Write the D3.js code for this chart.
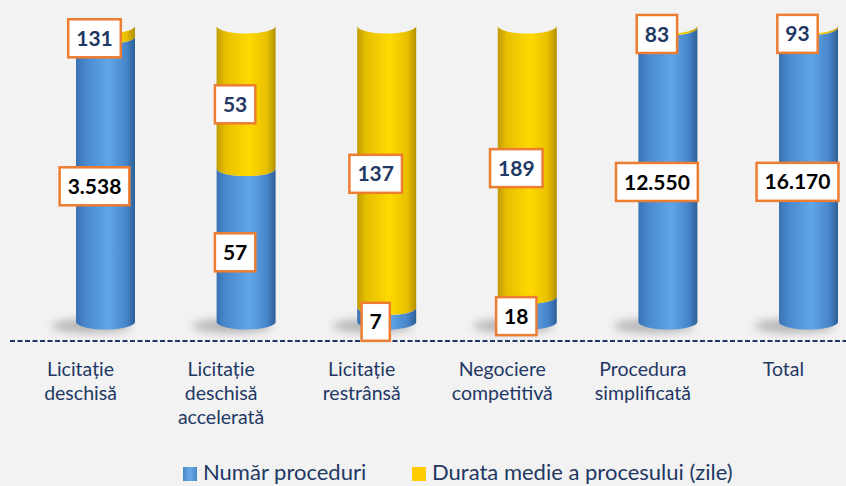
<!DOCTYPE html>
<html>
<head>
<meta charset="utf-8">
<script src="https://cdn.jsdelivr.net/npm/d3@7"></script>
<style>
  html, body { margin: 0; padding: 0; background: #f2f2f2; }
  svg { display: block; }
</style>
</head>
<body>
<div id="chart"></div>
<script>
// data
var categories = ['Licitație deschisă', 'Licitație deschisă accelerată', 'Licitație restrânsă',
                  'Negociere competitivă', 'Procedura simplificată', 'Total'];
var numarProceduri = [3538, 57, 7, 18, 12550, 16170];
var durataMedie = [131, 53, 137, 189, 83, 93];
var seriesNames = ['Număr proceduri', 'Durata medie a procesului (zile)'];

var width = 846, height = 486;
var cylW = 59, rx = cylW / 2, ry = 7.5;
var navy = '#1f3864';

var locale = d3.formatLocale({decimal: ',', thousands: '.', grouping: [3], currency: ['', ' lei']});
var fmt = locale.format(',d');

var rows = categories.map(function (c, i) {
  return {cat: c, numar: numarProceduri[i], durata: durataMedie[i]};
});
var keys = ['numar', 'durata'];
var stacked = d3.stack().keys(keys).offset(d3.stackOffsetExpand)(rows);

var x = d3.scalePoint().domain(categories).range([35.2, 878.8]).padding(0.5);
var y = d3.scaleLinear().domain([0, 1]).range([322, 26]);

var svg = d3.select('#chart').append('svg')
    .attr('width', width).attr('height', height)
    .style('font-family', 'Lato, "Open Sans", sans-serif');

svg.append('rect').attr('width', width).attr('height', height).attr('fill', '#f2f2f2');

var defs = svg.append('defs');
function bodyGrad(id, stops) {
  var g = defs.append('linearGradient').attr('id', id).attr('x1', '0').attr('x2', '1').attr('y1', '0').attr('y2', '0');
  stops.forEach(function (s) { g.append('stop').attr('offset', s[0]).attr('stop-color', s[1]); });
}
bodyGrad('g-numar', [[0, '#3a73b2'], [0.15, '#4887cd'], [0.55, '#5fa6e8'], [0.85, '#4785ca'], [1, '#2d5f97']]);
bodyGrad('g-durata', [[0, '#c19b00'], [0.15, '#e6bf00'], [0.55, '#ffd900'], [0.85, '#e8c000'], [1, '#b39000']]);
bodyGrad('cap-durata', [[0, '#e0b800'], [0.5, '#ffdc10'], [1, '#e6bd00']]);
bodyGrad('leg-numar', [[0, '#4a86cc'], [0.5, '#6aaae6'], [1, '#4a86cc']]);

defs.append('filter').attr('id', 'blur').attr('x', '-50%').attr('y', '-100%').attr('width', '200%').attr('height', '300%')
  .append('feGaussianBlur').attr('stdDeviation', 4);

// shadows under cylinders
svg.append('g').selectAll('ellipse')
  .data(categories)
  .join('ellipse')
    .attr('cx', function (d) { return x(d) - 14; })
    .attr('cy', y(0) + 4)
    .attr('rx', 40).attr('ry', 7)
    .attr('fill', '#7a7a7a').attr('opacity', 0.5)
    .attr('filter', 'url(#blur)');

// floor / category axis
svg.append('line')
  .attr('x1', 10).attr('x2', width)
  .attr('y1', 341).attr('y2', 341)
  .attr('stroke', navy).attr('stroke-width', 2)
  .attr('stroke-dasharray', '5,2.5');

function segPath(cx, y0, y1) {
  var l = cx - rx, r = cx + rx;
  return 'M' + l + ',' + y1 + 'L' + l + ',' + y0 +
         'A' + rx + ',' + ry + ' 0 0 0 ' + r + ',' + y0 +
         'L' + r + ',' + y1 +
         'A' + rx + ',' + ry + ' 0 0 1 ' + l + ',' + y1 + 'Z';
}

// cylinder bodies
stacked.forEach(function (layer) {
  svg.append('g').selectAll('path')
    .data(layer)
    .join('path')
      .attr('d', function (d) { return segPath(x(d.data.cat), y(d[0]), y(d[1])); })
      .attr('fill', 'url(#g-' + layer.key + ')');
});

// top caps
var top = stacked[stacked.length - 1];
svg.append('g').selectAll('ellipse')
  .data(top)
  .join('ellipse')
    .attr('cx', function (d) { return x(d.data.cat); })
    .attr('cy', function (d) { return y(d[1]); })
    .attr('rx', rx).attr('ry', ry + 0.5)
    .attr('fill', 'url(#cap-durata)')
    .attr('stroke', '#c9a200').attr('stroke-width', 0.6);

// data labels
var textColor = {numar: '#000', durata: navy};
stacked.forEach(function (layer) {
  var g = svg.append('g').selectAll('g')
    .data(layer)
    .join('g')
      .attr('transform', function (d) {
        return 'translate(' + (x(d.data.cat) - 11) + ',' + ((y(d[0]) + y(d[1])) / 2 + 7) + ')';
      });
  g.append('rect')
    .attr('fill', '#fff').attr('stroke', '#ed7d31').attr('stroke-width', 2.5);
  var txt = g.append('text')
    .attr('text-anchor', 'middle').attr('dy', '0.36em')
    .attr('font-size', 21).attr('font-weight', 700)
    .attr('fill', textColor[layer.key])
    .text(function (d) { return fmt(d.data[layer.key]); });
  txt.each(function () {
    var w = this.getComputedTextLength() + 16;
    d3.select(this.previousSibling)
      .attr('x', -w / 2).attr('y', -19).attr('width', w).attr('height', 38);
  });
});

// category labels, one word per line
svg.append('g').selectAll('text')
  .data(categories)
  .join('text')
    .attr('x', function (d) { return x(d) - 25; })
    .attr('y', 376)
    .attr('text-anchor', 'middle')
    .attr('font-size', 19.5)
    .attr('fill', navy)
    .each(function (d) {
      var t = d3.select(this);
      d.split(' ').forEach(function (w, i) {
        t.append('tspan').attr('x', x(d) - 25).attr('dy', i ? 24 : 0).text(w);
      });
    });

// legend
var legend = svg.append('g').attr('font-size', 22).attr('fill', navy);
var lx = [183, 412];
seriesNames.forEach(function (name, i) {
  legend.append('rect')
    .attr('x', lx[i]).attr('y', 467).attr('width', 14).attr('height', 14)
    .attr('fill', i ? '#ffcc00' : 'url(#leg-numar)');
  legend.append('text')
    .attr('x', lx[i] + 20).attr('y', 480)
    .text(name);
});
</script>
</body>
</html>
